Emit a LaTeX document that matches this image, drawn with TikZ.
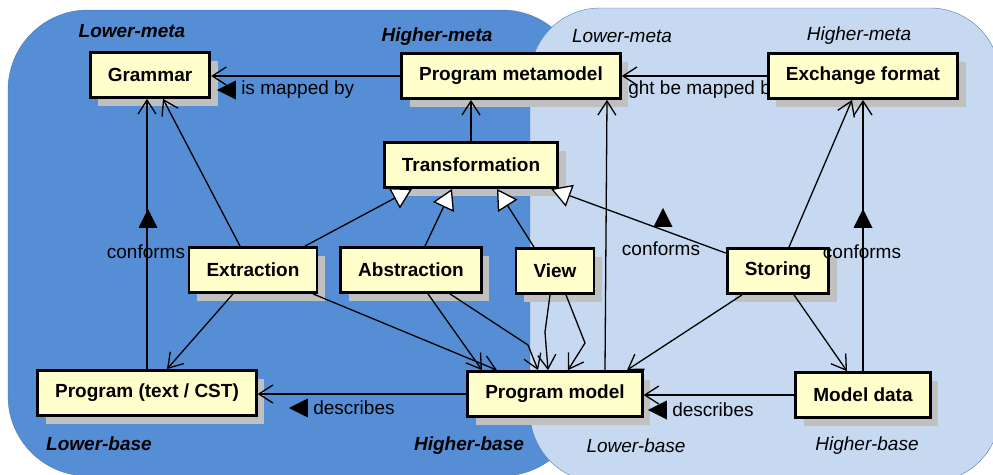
\documentclass[tikz,border=0pt]{standalone}
\usepackage{fontspec}
\setmainfont{Liberation Sans}
\usepackage{tikz}
\usetikzlibrary{arrows.meta,positioning,shapes.geometric,shadows}
\definecolor{DarkZone}{HTML}{558ED5}
\definecolor{LightZone}{HTML}{C6D9F1}
\definecolor{ZoneEdge}{HTML}{4A7EBB}
\definecolor{BoxFill}{HTML}{FFFFCC}
\definecolor{Shade}{HTML}{C0C0C0}

\begin{document}
\begin{tikzpicture}[
  x=1pt,y=-1pt,
  font=\fontsize{19}{22}\selectfont,
  classbox/.style={draw=black,line width=2.8pt,fill=BoxFill,inner xsep=17.5pt,minimum height=45pt,font=\fontsize{19}{22}\selectfont\bfseries,drop shadow={shadow xshift=8pt,shadow yshift=-8pt,fill=Shade,opacity=1}},
  nav/.style={-{Straight Barb[length=14pt,width=18pt]},line width=1.3pt},
  genarrow/.style={-{Triangle[open,fill=white,length=20pt,width=23pt]},line width=1.3pt},
  tri/.style={isosceles triangle,isosceles triangle stretches,fill=black,inner sep=0pt,minimum width=19pt,minimum height=19pt},
  lbl/.style={inner sep=0pt},
  zonebold/.style={inner sep=0pt,font=\fontsize{19}{22}\selectfont\bfseries\itshape},
  zoneital/.style={inner sep=0pt,font=\fontsize{19}{22}\selectfont\itshape}
]
\useasboundingbox (0,0) rectangle (993,474);
% the two zones
\path[fill=DarkZone,draw=ZoneEdge,rounded corners=80pt] (8,10) rectangle (582,476);
\path[fill=LightZone,draw=ZoneEdge,rounded corners=70pt] (530,8) rectangle (1000,482);
\node[zonebold] (lmeta) at (132,31) {Lower-meta};
\node[zonebold] (hmeta) at (437,37) {Higher-meta};
\node[zoneital] (lmetaB) at (622,36) {Lower-meta};
\node[zoneital] (hmetaB) at (859,36) {Higher-meta};
\node[zonebold] (lbase) at (99,444) {Lower-base};
\node[zonebold] (hbase) at (469,446) {Higher-base};
\node[zoneital] (lbaseB) at (636,446) {Lower-base};
\node[zoneital] (hbaseB) at (867,446) {Higher-base};
% this label sits behind the boxes
\node[tri,shape border rotate=180] (mayT) at (597,90) {};
\node[lbl,right=5pt of mayT] (mayL) {might be mapped by};
% classes
\node[classbox] (gram) at (150,75) {Grammar};
\node[classbox] (pmm) at (511,76) {Program metamodel};
\node[classbox] (exf) at (863,76) {Exchange format};
\node[classbox] (trans) at (471,165) {Transformation};
\node[classbox] (ext) at (253,270) {Extraction};
\node[classbox] (abs) at (411,270) {Abstraction};
\node[classbox] (view) at (555,271) {View};
\node[classbox] (stor) at (778,271) {Storing};
\node[classbox] (ptxt) at (147,393) {Program (text / CST)};
\node[classbox] (pmod) at (555,394) {Program model};
\node[classbox] (mdat) at (863,395) {Model data};
\coordinate (absbend) at (528,345);
\coordinate (viewbendA) at (545,332);
\coordinate (viewbendB) at (585,343);
% connectors
\draw[nav] (pmm.west) -- (pmm.west -| gram.east);
\draw[nav] (exf.west) -- (exf.west -| pmm.east);
\draw[nav] (trans.north) -- (trans.north |- pmm.south);
\draw[genarrow] ([xshift=52pt]ext.north) -- ([xshift=-59pt]trans.south);
\draw[genarrow] ([xshift=14pt]abs.north) -- ([xshift=-19pt]trans.south);
\draw[genarrow] ([xshift=-21pt]view.north) -- ([xshift=26pt]trans.south);
\draw[genarrow] ([yshift=-6pt]stor.north west) -- ([xshift=-8pt]trans.south east);
\draw[nav] (ptxt.north) -- (ptxt.north |- gram.south);
\draw[nav] ([xshift=-13pt]ext.north) -- ([xshift=13pt]gram.south);
\draw[nav] ([xshift=-20pt]ext.south) -- ([xshift=20pt]ptxt.north);
\draw[nav] ([xshift=60pt]ext.south) -- ([xshift=-58pt]pmod.north);
\draw[nav] ([xshift=17pt]abs.south) -- ([xshift=-73pt]pmod.north);
\draw[nav] ([xshift=39pt]abs.south) -- (absbend) -- ([xshift=-17pt]pmod.north);
\draw[nav] ([xshift=-5pt]view.south) -- (viewbendA) -- ([xshift=-7pt]pmod.north);
\draw[nav] ([xshift=11pt]view.south) -- (viewbendB) -- ([xshift=13pt]pmod.north);
\draw[nav] ([xshift=-36pt]stor.south) -- ([xshift=72pt]pmod.north);
\draw[nav] ([xshift=16pt]stor.south) -- ([xshift=-16pt]mdat.north);
\draw[nav] ([xshift=11pt]stor.north) -- ([xshift=-11pt]exf.south);
\draw[nav] (mdat.north) -- (exf.south);
\draw[nav] ([xshift=50pt]pmod.north) -- ([xshift=96pt]pmm.south);
\draw[nav] (pmod.west) -- (pmod.west -| ptxt.east);
\draw[nav] (mdat.west) -- (mdat.west -| pmod.east);
% association labels
\node[tri,shape border rotate=180] (mapT) at (230,90) {};
\node[lbl,right=5pt of mapT] (mapL) {is mapped by};
\node[tri,shape border rotate=180] (descT) at (302,408) {};
\node[lbl,right=5pt of descT] (descL) {describes};
\node[tri,shape border rotate=180] (descTB) at (661,410) {};
\node[lbl,right=5pt of descTB] (descLB) {describes};
\node[tri,shape border rotate=90] (confT) at (148,222) {};
\node[lbl] (confL) at (146,252) {conforms};
\node[tri,shape border rotate=90] (confTB) at (663,221) {};
\node[lbl] (confLB) at (661,249) {conforms};
\node[tri,shape border rotate=90] (confTC) at (863,222) {};
\node[lbl] (confLC) at (862,252) {conforms};
\end{tikzpicture}
\end{document}
